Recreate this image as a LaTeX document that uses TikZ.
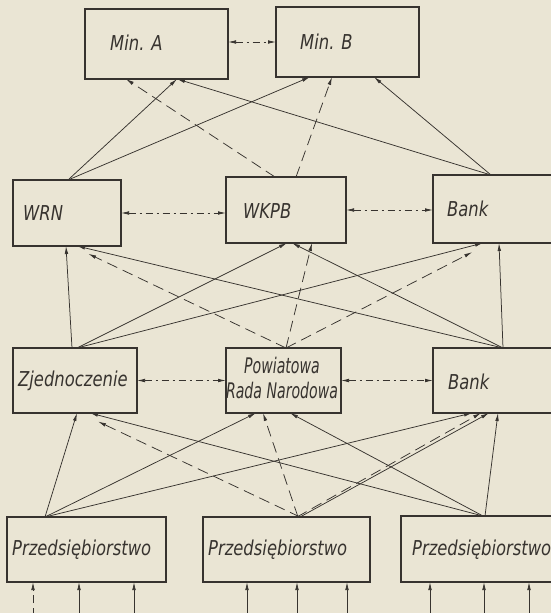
\documentclass[tikz,border=0pt]{standalone}
\usepackage{fontspec}
\newfontfamily\lblfont{DejaVu Sans}
\usetikzlibrary{arrows.meta}
\definecolor{paper}{RGB}{234,229,212}
\definecolor{ink}{RGB}{55,51,47}
\tikzset{
 box/.style={draw=ink, line width=1.3pt, rectangle, inner sep=0pt, outer sep=0pt},
 con/.style={draw=ink, line width=0.75pt, -{Latex[length=8pt,width=3.6pt]}},
 dcon/.style={con, dash pattern=on 11pt off 6pt},
 hcon/.style={draw=ink, line width=0.75pt, {Latex[length=8pt,width=3.6pt]}-{Latex[length=8pt,width=3.6pt]}, dash pattern=on 7pt off 4pt on 2pt off 4pt},
 lbl/.style={font=\fontsize{20.5}{25}\selectfont\lblfont\itshape, text=ink, inner sep=0pt, xscale=0.8, anchor=west},
}
\begin{document}
\begin{tikzpicture}[x=1pt,y=-1pt]
\useasboundingbox (0,0) rectangle (551,613);
\fill[paper] (0,0) rectangle (551,613);
\clip (0,0) rectangle (551,613);

% boxes
\node[box, minimum width=143pt, minimum height=70pt] (mina) at (156.5,44) {};
\node[box, minimum width=143pt, minimum height=70pt] (minb) at (347.5,42) {};
\node[box, minimum width=108pt, minimum height=66pt] (wrn) at (67,213) {};
\node[box, minimum width=120pt, minimum height=66pt] (wkpb) at (286,210) {};
\node[box, minimum width=127pt, minimum height=68pt] (bank1) at (496.5,209) {};
\node[box, minimum width=124pt, minimum height=65pt] (zjed) at (75,380.5) {};
\node[box, minimum width=115pt, minimum height=65pt] (pow) at (283.5,380.5) {};
\node[box, minimum width=127pt, minimum height=65pt] (bank2) at (496.5,380.5) {};
\node[box, minimum width=159pt, minimum height=65pt] (p1) at (86.5,549.5) {};
\node[box, minimum width=167pt, minimum height=65pt] (p2) at (286.5,549.5) {};
\node[box, minimum width=159pt, minimum height=66pt] (p3) at (480.5,549) {};

% labels
\node[lbl] (tmina) at (110,43) {Min. A};
\node[lbl] (tminb) at (300,42) {Min. B};
\node[lbl] (twrn) at (23,213) {WRN};
\node[lbl] (twkpb) at (243,211) {WKPB};
\node[lbl] (tbank1) at (447,209) {Bank};
\node[lbl] (tzjed) at (18,381) {Zjednoczenie};
\node[lbl, anchor=center, xscale=0.82, align=center, font=\fontsize{21.5}{25}\selectfont\lblfont\itshape] (tpow) at (282,378) {Powiatowa\\Rada Narodowa};
\node[lbl] (tbank2) at (448,382) {Bank};
\node[lbl] (tp1) at (12,550) {Przedsiębiorstwo};
\node[lbl] (tp2) at (208,550) {Przedsiębiorstwo};
\node[lbl] (tp3) at (412,550) {Przedsiębiorstwo};

% horizontal links
\draw[hcon] (mina.east |- minb.west) -- (minb.west);
\draw[hcon] (wrn.east) -- (wrn.east -| wkpb.west);
\draw[hcon] (wkpb.east) -- (wkpb.east -| bank1.west);
\draw[hcon] (zjed.east) -- (zjed.east -| pow.west);
\draw[hcon] (pow.east) -- (pow.east -| bank2.west);

% layer 2 -> layer 1
\draw[con] ([xshift=55pt]wrn.north west) -- ([xshift=92pt]mina.south west);
\draw[con] ([xshift=55pt]wrn.north west) -- ([xshift=34pt]minb.south west);
\draw[dcon] ([xshift=49pt]wkpb.north west) -- ([xshift=41pt]mina.south west);
\draw[dcon] ([xshift=70pt]wkpb.north west) -- ([xshift=56pt]minb.south west);
\draw[con] ([xshift=58pt]bank1.north west) -- ([xshift=98pt]minb.south west);
\draw[con] ([xshift=58pt]bank1.north west) -- ([xshift=92pt]mina.south west);

% layer 3 -> layer 2
\draw[con] ([xshift=59pt]zjed.north west) -- ([xshift=53pt]wrn.south west);
\draw[con] ([xshift=64pt]zjed.north west) -- ([xshift=61pt]wkpb.south west);
\draw[con] ([xshift=64pt]zjed.north west) -- ([xshift=50pt]bank1.south west);
\draw[con] ([xshift=70pt]bank2.north west) -- ([xshift=64pt]wrn.south west);
\draw[con] ([xshift=70pt]bank2.north west) -- ([xshift=66pt]wkpb.south west);
\draw[con] ([xshift=70pt]bank2.north west) -- ([xshift=66pt]bank1.south west);
\draw[dcon, shorten >=18pt] ([xshift=60pt]pow.north west) -- ([xshift=59pt]wrn.south west);
\draw[dcon] ([xshift=60pt]pow.north west) -- ([xshift=86pt]wkpb.south west);
\draw[dcon, shorten >=20pt] ([xshift=60pt]pow.north west) -- ([xshift=57pt]bank1.south west);

% layer 4 -> layer 3
\draw[con] ([xshift=38pt]p1.north west) -- ([xshift=64pt]zjed.south west);
\draw[con] ([xshift=38pt]p1.north west) -- ([xshift=30pt]pow.south west);
\draw[con] ([xshift=38pt]p1.north west) -- ([xshift=39pt]bank2.south west);
\draw[con] ([xshift=82pt]p3.north west) -- ([xshift=77pt]zjed.south west);
\draw[con] ([xshift=82pt]p3.north west) -- ([xshift=64pt]pow.south west);
\draw[con] ([xshift=84pt]p3.north west) -- ([xshift=65pt]bank2.south west);
\draw[dcon, shorten >=20pt] ([xshift=97pt]p2.north west) -- ([xshift=67pt]zjed.south west);
\draw[dcon] ([xshift=95pt]p2.north west) -- ([xshift=37pt]pow.south west);
\draw[dcon] ([xshift=94pt]p2.north west) -- ([xshift=48pt]bank2.south west);
\draw[con] ([xshift=97pt]p2.north west) -- ([xshift=56pt]bank2.south west);

% inputs from below
\coordinate (i1) at (33,616);
\coordinate (i2) at (79,616);
\coordinate (i3) at (134,616);
\coordinate (i4) at (247,616);
\coordinate (i5) at (297,616);
\coordinate (i6) at (347,616);
\coordinate (i7) at (430,616);
\coordinate (i8) at (484,616);
\coordinate (i9) at (529,616);
\draw[con, dash pattern=on 8pt off 5pt] (i1) -- (i1 |- p1.south);
\draw[con] (i2) -- (i2 |- p1.south);
\draw[con] (i3) -- (i3 |- p1.south);
\draw[con] (i4) -- (i4 |- p2.south);
\draw[con] (i5) -- (i5 |- p2.south);
\draw[con] (i6) -- (i6 |- p2.south);
\draw[con] (i7) -- (i7 |- p3.south);
\draw[con] (i8) -- (i8 |- p3.south);
\draw[con] (i9) -- (i9 |- p3.south);
\end{tikzpicture}
\end{document}
